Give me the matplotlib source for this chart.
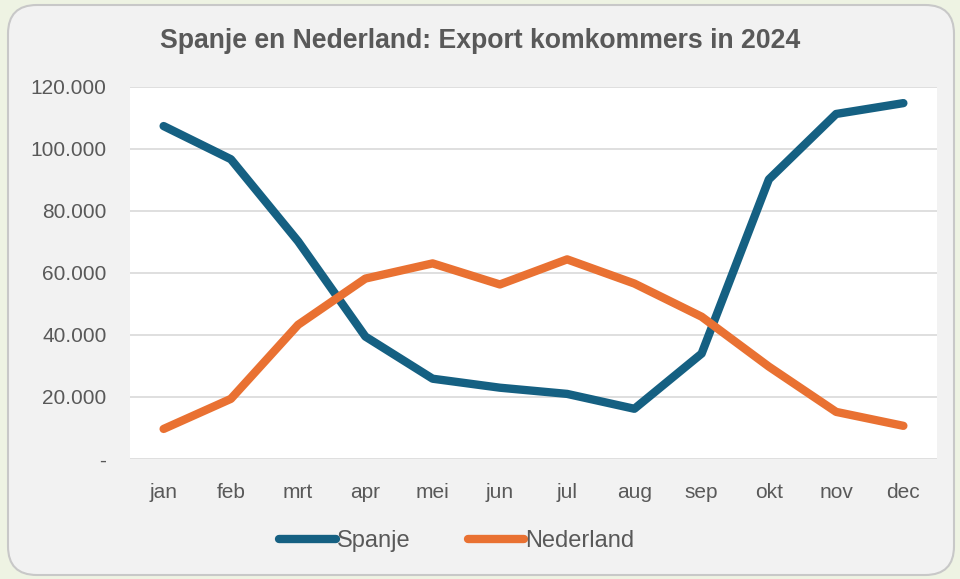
import matplotlib
matplotlib.use("Agg")
from matplotlib import pyplot as plt
from matplotlib.patches import FancyBboxPatch
from matplotlib.ticker import FuncFormatter

months = ["jan", "feb", "mrt", "apr", "mei", "jun", "jul", "aug", "sep", "okt", "nov", "dec"]
spanje = [107400, 96700, 70200, 39500, 25900, 23000, 21000, 16200, 34000, 90200, 111300, 114800]
nederland = [9700, 19400, 43300, 58200, 63100, 56300, 64400, 56600, 45900, 29800, 15200, 10700]

plt.rcParams['font.family'] = ['Liberation Sans', 'DejaVu Sans']

fig = plt.figure(figsize=(9.6, 5.79), dpi=100)
fig.patch.set_facecolor("#eef3e3")

# rounded chart panel
panel = FancyBboxPatch((8 / 960, 4 / 579), 946 / 960, 570 / 579,
                       boxstyle="round,pad=0,rounding_size=0.03",
                       transform=fig.transFigure, facecolor="#f2f2f2",
                       edgecolor="#c8c8c8", linewidth=1.5, zorder=-5,
                       mutation_aspect=960 / 579)
fig.patches.append(panel)

ax = fig.add_axes([130 / 960, 120 / 579, 807 / 960, 372 / 579])
ax.set_zorder(2)
ax.set_facecolor("white")

x = list(range(len(months)))
ax.plot(x, spanje, color="#156082", linewidth=6, solid_capstyle="round",
        solid_joinstyle="round", label="Spanje", zorder=3)
ax.plot(x, nederland, color="#e97132", linewidth=6, solid_capstyle="round",
        solid_joinstyle="round", label="Nederland", zorder=3)

ax.set_xlim(-0.5, 11.5)
ax.set_ylim(0, 120000)
ax.set_yticks(range(0, 120001, 20000))
ax.yaxis.set_major_formatter(FuncFormatter(
    lambda v, p: "-" if v == 0 else f"{int(v):,}".replace(",", ".")))
ax.set_xticks(x)
ax.set_xticklabels(months)
ax.grid(axis="y", color="#d9d9d9", linewidth=1.2)
ax.set_axisbelow(True)
for s in ax.spines.values():
    s.set_visible(False)
ax.tick_params(length=0, colors="#595959")
ax.tick_params(axis="x", pad=17, labelsize=15)
ax.tick_params(axis="y", pad=17, labelsize=15)

fig.text(0.5, 538 / 579, "Spanje en Nederland: Export komkommers in 2024",
         ha="center", va="center", fontsize=19.2, fontweight="bold", color="#595959")

leg = fig.legend(loc="center", bbox_to_anchor=(0.476, 38 / 579), ncol=2,
                 frameon=False, fontsize=17, handlelength=2.4,
                 handletextpad=0.05, columnspacing=2.4)
for t in leg.get_texts():
    t.set_color("#595959")

fig.savefig("out.png", dpi=100, facecolor=fig.get_facecolor())
